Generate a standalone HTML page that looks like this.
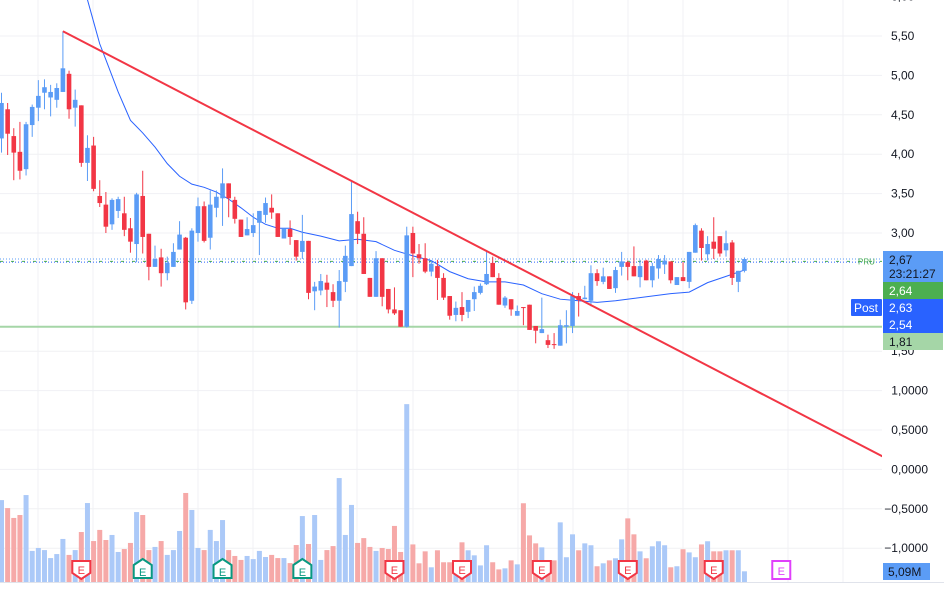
<!DOCTYPE html>
<html><head><meta charset="utf-8"><style>
html,body{margin:0;padding:0;background:#fff;}
svg{display:block;font-family:"Liberation Sans",sans-serif;}
</style></head><body>
<svg id="chart" width="944" height="589" viewBox="0 0 944 589" xmlns="http://www.w3.org/2000/svg">
<defs><clipPath id="plot"><rect x="0" y="0" width="882" height="582"/></clipPath></defs>
<g id="grid"></g>
<g id="vol" clip-path="url(#plot)"></g>
<g id="hlines"></g>
<g id="ma" clip-path="url(#plot)"></g>
<g id="candles" clip-path="url(#plot)"></g>
<g id="trend" clip-path="url(#plot)"></g>
<g id="events"></g>
<g id="axis"></g>
</svg>
<script>
const opens=[4.20,4.57,4.23,4.03,3.81,4.37,4.59,4.78,4.72,4.69,4.79,5.02,4.59,4.62,3.89,4.11,3.47,3.36,3.11,3.28,3.25,3.06,2.86,3.47,2.99,2.57,2.69,2.49,2.57,2.79,2.94,2.14,3.00,3.34,2.94,3.32,3.44,3.63,3.42,3.17,2.97,3.00,3.13,3.23,3.32,3.25,2.93,3.05,2.91,2.76,2.90,2.26,2.27,2.37,2.25,2.14,2.38,2.58,3.15,2.99,2.43,2.19,2.68,2.29,2.03,2.02,1.81,3.00,2.73,2.68,2.51,2.58,2.43,2.20,1.96,2.06,2.00,2.16,2.24,2.35,2.62,2.43,2.08,2.16,1.95,2.06,2.09,1.82,1.73,1.64,1.59,1.57,1.81,1.82,2.20,2.16,2.14,2.49,2.38,2.45,2.30,2.57,2.63,2.58,2.44,2.65,2.40,2.55,2.60,2.64,2.34,2.44,2.38,2.75,3.03,2.73,2.89,2.96,2.78,2.88,2.38,2.52];
const closes=[4.65,4.26,4.02,3.79,4.38,4.60,4.74,4.85,4.79,4.84,5.09,4.57,4.69,3.89,4.08,3.56,3.38,3.08,3.42,3.43,3.04,2.89,3.49,2.95,2.57,2.67,2.49,2.62,2.76,2.98,2.12,3.03,3.34,2.90,3.36,3.46,3.63,3.44,3.18,2.95,3.05,3.10,3.28,3.38,3.26,2.95,3.06,2.95,2.70,2.90,2.24,2.32,2.39,2.28,2.14,2.39,2.71,3.24,2.99,2.48,2.19,2.68,2.19,2.03,1.98,1.81,2.97,2.74,2.68,2.51,2.61,2.43,2.18,1.95,2.05,1.96,2.15,2.25,2.33,2.48,2.44,2.09,2.18,2.03,2.01,2.05,1.77,1.76,1.78,1.58,1.58,1.83,1.83,2.20,2.15,2.18,2.49,2.39,2.45,2.29,2.53,2.64,2.57,2.45,2.58,2.40,2.58,2.67,2.65,2.40,2.44,2.39,2.76,3.10,2.81,2.86,2.80,2.74,2.87,2.43,2.52,2.67];
const highs=[4.78,4.65,4.33,4.41,4.41,4.63,4.94,4.95,4.88,4.90,5.56,5.06,4.82,4.62,4.24,4.22,3.67,3.52,3.44,3.46,3.46,3.19,3.51,3.79,2.99,2.84,2.80,2.70,2.87,3.15,2.95,3.06,3.45,3.40,3.54,3.54,3.82,3.63,3.46,3.17,3.20,3.25,3.28,3.45,3.49,3.25,3.06,3.16,2.91,3.23,2.90,2.38,2.48,2.47,2.35,2.53,2.84,3.65,3.27,3.20,2.43,2.77,2.68,2.29,2.31,2.02,3.08,3.08,2.86,2.87,2.65,2.66,2.49,2.20,2.13,2.25,2.15,2.32,2.36,2.78,2.70,2.49,2.20,2.16,2.08,2.06,2.09,1.82,2.18,1.71,1.73,1.90,2.02,2.25,2.24,2.33,2.59,2.54,2.56,2.45,2.57,2.76,2.65,2.83,2.66,2.66,2.62,2.72,2.72,2.64,2.44,2.63,2.76,3.12,3.06,2.96,3.20,2.96,3.03,2.91,2.52,2.69];
const lows=[4.02,3.99,3.67,3.68,3.73,4.22,4.42,4.57,4.48,4.59,4.79,4.45,4.35,3.84,3.66,3.53,3.33,3.00,3.04,3.19,2.96,2.75,2.63,2.74,2.40,2.57,2.32,2.40,2.57,2.79,2.03,2.10,2.89,2.88,2.79,3.20,3.09,3.20,3.12,2.95,2.97,2.95,2.72,3.13,3.18,2.95,2.93,2.85,2.65,2.67,2.16,2.02,2.21,2.06,2.06,1.80,2.25,2.58,2.86,2.48,2.19,2.19,2.07,1.98,1.96,1.81,1.80,2.44,2.61,2.49,2.45,2.15,2.15,1.90,1.88,1.88,1.92,2.01,2.22,2.34,2.44,2.09,2.05,1.95,1.95,1.83,1.77,1.60,1.73,1.54,1.53,1.57,1.60,1.73,1.94,2.16,2.07,2.33,2.35,2.29,2.24,2.46,2.40,2.45,2.31,2.40,2.31,2.42,2.48,2.36,2.34,2.39,2.30,2.75,2.65,2.65,2.67,2.70,2.70,2.34,2.25,2.50];
const volumes=[39.0,35.2,30.5,31.9,41.4,14.8,16.2,15.2,11.4,13.3,20.5,12.9,15.2,23.8,37.6,19.5,24.8,20.0,22.4,14.3,15.7,18.6,33.3,31.9,15.2,16.7,19.5,12.9,15.2,24.3,42.4,34.3,16.2,15.2,24.8,19.5,29.5,15.2,12.4,10.5,12.4,10.9,14.8,11.9,12.9,11.4,11.4,9.0,17.6,31.4,18.1,31.9,10.5,15.2,17.1,49.5,22.4,36.7,18.6,20.9,16.7,14.8,16.2,15.7,26.7,14.3,84.7,17.9,8.9,14.6,7.0,15.1,9.4,9.4,7.9,18.9,15.1,12.7,7.9,17.5,9.4,6.0,6.5,10.3,8.4,37.5,22.2,18.4,16.5,10.3,10.3,28.4,11.8,22.7,15.1,18.4,17.5,7.5,8.9,10.3,11.3,20.3,30.3,22.7,14.6,11.3,17.0,19.4,17.5,7.0,7.5,15.6,14.1,11.8,17.9,19.4,14.6,14.6,15.1,15.1,15.1,5.09];
const maIdx=[13,14,15,16,17,19,21,23,25,27,29,31,33,35,37,39,41,43,45,47,49,52,55,58,61,64,67,70,73,76,79,82,85,88,91,94,97,100,103,106,109,112,115,118,121];
const maVal=[6.27,5.96,5.68,5.40,5.20,4.79,4.43,4.27,4.09,3.88,3.72,3.62,3.58,3.52,3.43,3.32,3.20,3.11,3.06,3.06,3.01,2.96,2.90,2.92,2.89,2.78,2.71,2.65,2.51,2.42,2.38,2.38,2.34,2.23,2.16,2.14,2.12,2.14,2.17,2.20,2.23,2.25,2.37,2.45,2.53];
const trendIdx=[10,143.6];
const trendVal=[5.56,0.16];
const priceTicks=[6.00,5.50,5.00,4.50,4.00,3.50,3.00,1.50];
const lowerTicks=[1.0,0.5,0.0,-0.5,-1.0];
const earnIdx=[13,23,36,49,64,75,88,102,116,127];
const earnKind=['down','up','up','up','down','down','down','down','down','future'];

const NS='http://www.w3.org/2000/svg';
const X0=1.5, STEP=6.14, BASE=582, VPX=2.1;
function xs(i){return X0+i*STEP;}
function ys(p){return 36+(5.5-p)*78.8;}
function vh(v){return v*VPX;}
function mk(tag,attrs,parent){const e=document.createElementNS(NS,tag);for(const k in attrs)e.setAttribute(k,attrs[k]);parent.appendChild(e);return e;}
function fmt(v,d){return v.toFixed(d).replace('.',',').replace('-','−');}
const UP='#5b9cf6', DN='#f23645', UPV='#abc9f8', DNV='#f6a9a8';

// grid
const grid=document.getElementById('grid');
[...priceTicks,...lowerTicks].forEach(p=>{const l=mk('line',{x1:0,x2:882,y1:ys(p),y2:ys(p),stroke:'#f0f1f4','stroke-width':1},grid);

});
[38,93,198,253,357,413,518,573,628,683,788,843].forEach(x=>{const l=mk('line',{x1:x,x2:x,y1:0,y2:582,stroke:'#f0f1f4','stroke-width':1},grid);

});
const bl=mk('line',{x1:0,x2:944,y1:582.5,y2:582.5,stroke:'#e0e3eb','stroke-width':1},grid);



// volume
const vol=document.getElementById('vol');
volumes.forEach((v,i)=>{const up=closes[i]>=opens[i];
const r=mk('rect',{x:xs(i)-2.5,y:BASE-vh(v),width:5,height:vh(v),fill:up?UPV:DNV},vol);

});

// horizontal lines
const hl=document.getElementById('hlines');
const g1=mk('line',{x1:0,x2:882,y1:ys(1.81),y2:ys(1.81),stroke:'#a5d6a7','stroke-width':2},hl);


const d1=mk('line',{x1:0,x2:882,y1:ys(2.67),y2:ys(2.67),stroke:'#5b9cf6','stroke-width':1,'stroke-dasharray':'1 2'},hl);


const d2=mk('line',{x1:0,x2:882,y1:ys(2.63),y2:ys(2.63),stroke:'#2962ff','stroke-width':1,'stroke-dasharray':'1 2'},hl);


const d3=mk('line',{x1:0,x2:882,y1:ys(2.64),y2:ys(2.64),stroke:'#4caf50','stroke-width':1,'stroke-dasharray':'3 8'},hl);


const pt=mk('text',{x:858,y:ys(2.64)+3,'font-size':8,fill:'#4caf50'},hl);pt.textContent='PRU';



// moving average
const ma=document.getElementById('ma');
const mp=mk('polyline',{points:maIdx.map((k,j)=>xs(k)+','+ys(maVal[j])).join(' '),fill:'none',stroke:'#2962ff','stroke-width':1},ma);



// candles
const cg=document.getElementById('candles');
opens.forEach((o,i)=>{const c=closes[i],up=c>=o,col=up?UP:DN,x=xs(i);
const w=mk('line',{x1:x,x2:x,y1:ys(highs[i]),y2:ys(lows[i]),stroke:col,'stroke-width':1},cg);


const top=ys(Math.max(o,c)),h=Math.max(1,ys(Math.min(o,c))-top);
const b=mk('rect',{x:x-2.3,y:top,width:4.6,height:h,fill:col},cg);

});

// trend
const tg=document.getElementById('trend');
const tl=mk('line',{x1:xs(trendIdx[0]),y1:ys(trendVal[0]),x2:xs(trendIdx[1]),y2:ys(trendVal[1]),stroke:'#f23645','stroke-width':2},tg);



// earnings markers
const eg=document.getElementById('events');
earnIdx.forEach((k,j)=>{const x=xs(k),kind=earnKind[j];let col,path,ty;
if(kind==='down'){col='#f23645';path=`M${x-9},561 h18 v12 l-9,6 l-9,-6 z`;ty=574;}
else if(kind==='up'){col='#089981';path=`M${x-9},565 l9,-6 l9,6 v13 h-18 z`;ty=576;}
else{col='#e040fb';path=`M${x-9},561 h18 v18 h-18 z`;ty=575;}
const p=mk('path',{d:path,fill:'#fff',stroke:col,'stroke-width':2},eg);


const t=mk('text',{x:x,y:ty,'font-size':11,'text-anchor':'middle',fill:col},eg);t.textContent='E';

});

// axis
const ax=document.getElementById('axis');
priceTicks.forEach(p=>{const t=mk('text',{x:891,y:ys(p)+4,'font-size':12,fill:'#131722'},ax);t.textContent=fmt(p,2);

});
lowerTicks.forEach(p=>{const t=mk('text',{x:928,y:ys(p)+4,'font-size':12,fill:'#131722','text-anchor':'end'},ax);t.textContent=fmt(p,4);

});
function box(y,h,bg,fg,lines,name){const r=mk('rect',{x:883,y:y,width:60,height:h,fill:bg},ax);


lines.forEach((s,k)=>{const t=mk('text',{x:889,y:y+13+k*14,'font-size':12,fill:fg},ax);t.textContent=s;

});}
box(251,31,'#5b9cf6','#131722',['2,67','23:21:27'],'last-price-label');
box(282,17,'#4caf50','#ffffff',['2,64'],'pre-market-label');
box(299,17,'#2962ff','#ffffff',['2,63'],'post-market-label');
box(316,17,'#2962ff','#ffffff',['2,54'],'ma-value-label');
box(333,17,'#a5d6a7','#131722',['1,81'],'support-label');
const pr=mk('rect',{x:851,y:299,width:31,height:17,fill:'#2962ff',rx:1},ax);


const ptx=mk('text',{x:854,y:312,'font-size':12,fill:'#fff'},ax);ptx.textContent='Post';


const vb=mk('rect',{x:883,y:563,width:47,height:17,fill:'#5b9cf6'},ax);


const vt=mk('text',{x:888,y:576,'font-size':12,fill:'#131722'},ax);vt.textContent=fmt(volumes[volumes.length-1],2)+'M';


</script>
</body></html>
